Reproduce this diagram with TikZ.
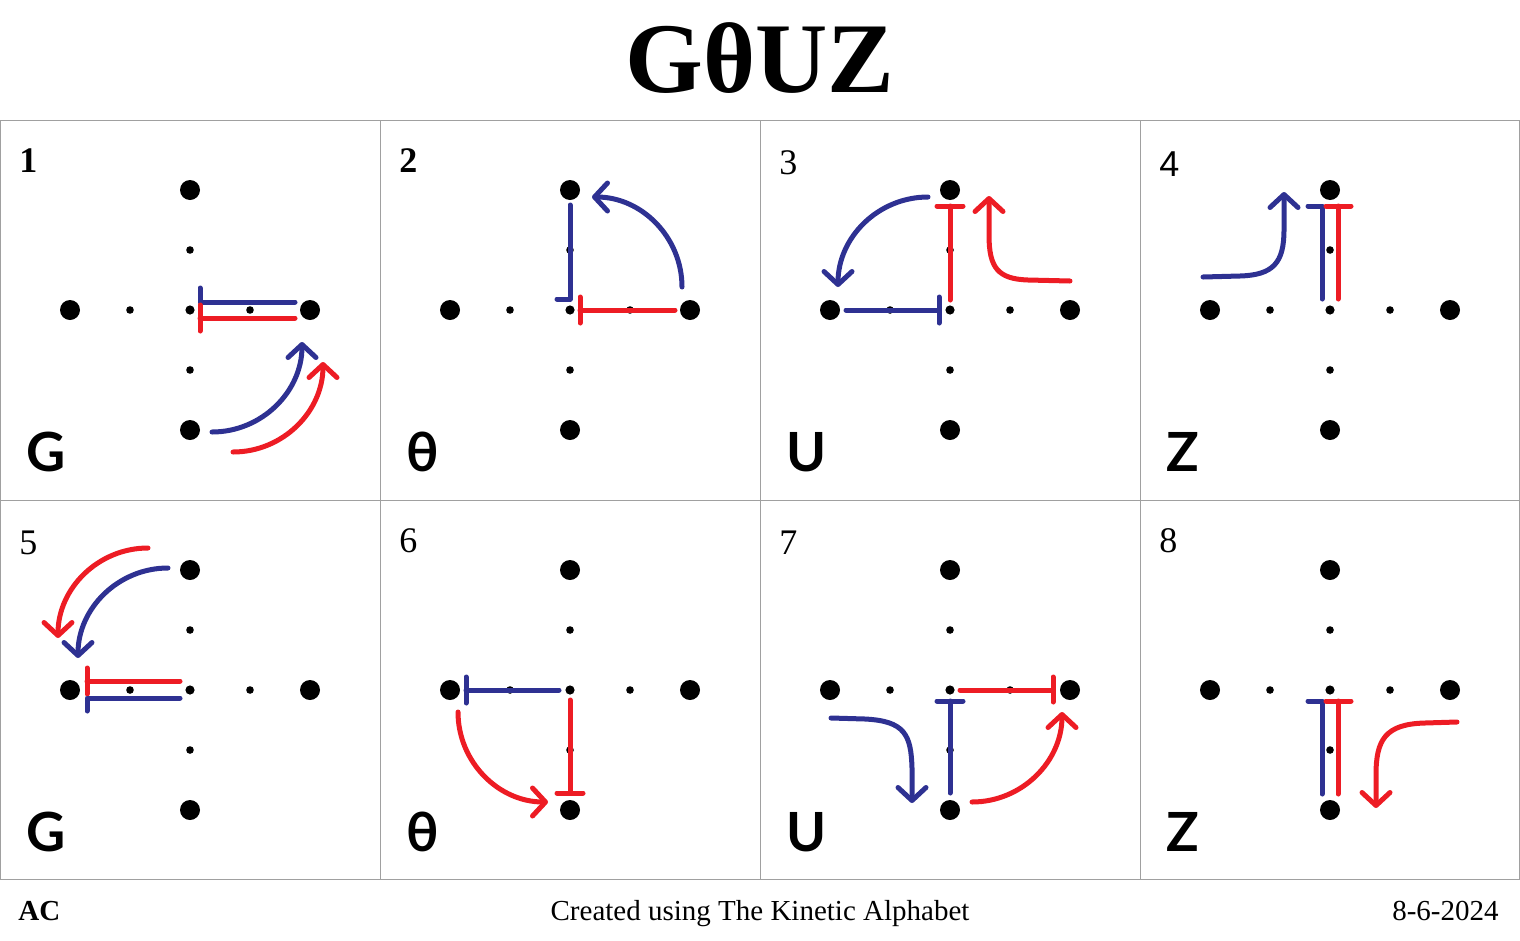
\documentclass[tikz,border=0pt]{standalone}
\usepackage{fontspec}
\setmainfont{Liberation Serif}
\newfontfamily\glyphfont{Lato}
\newfontfamily\plainsans{Liberation Sans}
\usetikzlibrary{arrows.meta}
\definecolor{kblue}{RGB}{46,49,146}
\definecolor{kred}{RGB}{237,28,36}
\definecolor{kgrid}{RGB}{160,160,160}
\tikzset{every picture/.style={line width=0.75pt}}
\tikzset{
  stroke/.style={line width=5pt, line cap=round, line join=round},
  bluestroke/.style={stroke, draw=kblue},
  redstroke/.style={stroke, draw=kred},
  barb/.style={-{Straight Barb[round, length=13pt, width=28pt]}},
  numlabel/.style={anchor=base west, inner sep=0pt, font=\fontsize{36}{40}\selectfont},
  glyphlabel/.style={anchor=base west, inner sep=0pt, font=\glyphfont\bfseries\fontsize{54}{60}\selectfont},
  footlabel/.style={inner sep=0pt, font=\fontsize{29}{32}\selectfont},
}
% the cross of dots in one cell
\newcommand{\kindots}{%
  \foreach \p in {(190,70),(70,190),(310,190),(190,310)} \fill \p circle (10pt);
  \foreach \p in {(190,130),(130,190),(250,190),(190,250)} \fill \p circle (3.8pt);
  \fill (190,190) circle (4.6pt);
}

\begin{document}
\begin{tikzpicture}[x=1pt,y=1pt,yscale=-1,xscale=1]
\useasboundingbox (0,0) rectangle (1520,940);

% Title
\node [anchor=base, inner sep=0pt, font=\bfseries\fontsize{100}{110}\selectfont] (title) at (760,92) {GθUZ};

% Grid
\draw [kgrid, line width=1pt] (0.5,120.5) rectangle (1519.5,879.5);
\draw [kgrid, line width=1pt] (380,120) -- (380,880) (760,120) -- (760,880) (1140,120) -- (1140,880);
\draw [kgrid, line width=1pt] (0,500) -- (1520,500);

% Cell 1
\begin{scope}[shift={(0,120)}]
\kindots
\node [numlabel, font=\bfseries\fontsize{36}{40}\selectfont] (num1) at (19,52) {1};
\node [glyphlabel] (ltr1) at (26,351) {G};
\draw [bluestroke] (295,182) -- (200,182) -- (200,168);
\draw [redstroke] (295,198) -- (200,198) (200,185) -- (200,211);
\draw [bluestroke, barb] (212,312) arc[start angle=90, end angle=0, radius=90];
\draw [redstroke, barb] (233,332) arc[start angle=90, end angle=0, radius=90];
\end{scope}

% Cell 2
\begin{scope}[shift={(380,120)}]
\kindots
\node [numlabel, font=\bfseries\fontsize{36}{40}\selectfont] (num2) at (19,52) {2};
\node [glyphlabel] (ltr2) at (26,351) {θ};
\draw [bluestroke] (190,85) -- (190,179) -- (177,179);
\draw [redstroke] (295,190) -- (200,190) (200,177) -- (200,203);
\draw [bluestroke, barb] (302,167) arc[start angle=0, end angle=-90, radius=90];
\end{scope}

% Cell 3
\begin{scope}[shift={(760,120)}]
\kindots
\node [numlabel] (num3) at (19,54) {3};
\node [glyphlabel] (ltr3) at (26,351) {U};
\draw [redstroke] (190,180) -- (190,86) (177,86) -- (203,86);
\draw [bluestroke] (86,190) -- (179,190) (179,177) -- (179,203);
\draw [bluestroke, barb] (168,77) arc[start angle=-90, end angle=-180, radius=90];
\draw [redstroke, barb] (310,161) -- (268,160) .. controls (238,159) and (229,148) .. (229,115) -- (229,76);
\end{scope}

% Cell 4
\begin{scope}[shift={(1140,120)}]
\kindots
\node [numlabel, font=\plainsans\fontsize{36}{40}\selectfont] (num4) at (19,56) {4};
\node [glyphlabel] (ltr4) at (26,351) {Z};
\draw [bluestroke] (182,179) -- (182,86) -- (168,86);
\draw [redstroke] (198,179) -- (198,86) (186,86) -- (211,86);
\draw [bluestroke, barb] (63,157) -- (100,156) .. controls (133,155) and (144,143) .. (144,110) -- (144,72);
\end{scope}

% Cell 5
\begin{scope}[shift={(0,500)}]
\kindots
\node [numlabel] (num5) at (19,54) {5};
\node [glyphlabel] (ltr5) at (26,351) {G};
\draw [redstroke] (180,181) -- (87,181) (87,168) -- (87,194);
\draw [bluestroke] (180,198) -- (87,198) -- (87,211);
\draw [redstroke, barb] (148,48) arc[start angle=-90, end angle=-180, radius=90];
\draw [bluestroke, barb] (168,68) arc[start angle=-90, end angle=-180, radius=90];
\end{scope}

% Cell 6
\begin{scope}[shift={(380,500)}]
\kindots
\node [numlabel] (num6) at (19,52) {6};
\node [glyphlabel] (ltr6) at (26,351) {θ};
\draw [bluestroke] (179,190) -- (86,190) (86,177) -- (86,203);
\draw [redstroke] (190,200) -- (190,293) (177,293) -- (203,293);
\draw [redstroke, barb] (78,212) arc[start angle=180, end angle=90, radius=90];
\end{scope}

% Cell 7
\begin{scope}[shift={(760,500)}]
\kindots
\node [numlabel] (num7) at (19,54) {7};
\node [glyphlabel] (ltr7) at (26,351) {U};
\draw [redstroke] (200,190) -- (293,190) (293,177) -- (293,202);
\draw [bluestroke] (190,293) -- (190,201) (177,201) -- (203,201);
\draw [bluestroke, barb] (71,218) -- (105,219) .. controls (145,221) and (151,235) .. (152,268) -- (152,303);
\draw [redstroke, barb] (212,302) arc[start angle=90, end angle=0, radius=90];
\end{scope}

% Cell 8
\begin{scope}[shift={(1140,500)}]
\kindots
\node [numlabel] (num8) at (19,52) {8};
\node [glyphlabel] (ltr8) at (26,351) {Z};
\draw [bluestroke] (182,294) -- (182,201) -- (168,201);
\draw [redstroke] (198,294) -- (198,201) (186,201) -- (211,201);
\draw [redstroke, barb] (317,222) -- (285,223) .. controls (245,224) and (236,240) .. (236,275) -- (236,308);
\end{scope}

% Footer
\node [footlabel, anchor=base west, font=\bfseries\fontsize{29}{32}\selectfont] (author) at (18,920) {AC};
\node [footlabel, anchor=base] (credit) at (760,920) {Created using The Kinetic Alphabet};
\node [footlabel, anchor=base east] (date) at (1499,920) {8-6-2024};

\end{tikzpicture}
\end{document}
